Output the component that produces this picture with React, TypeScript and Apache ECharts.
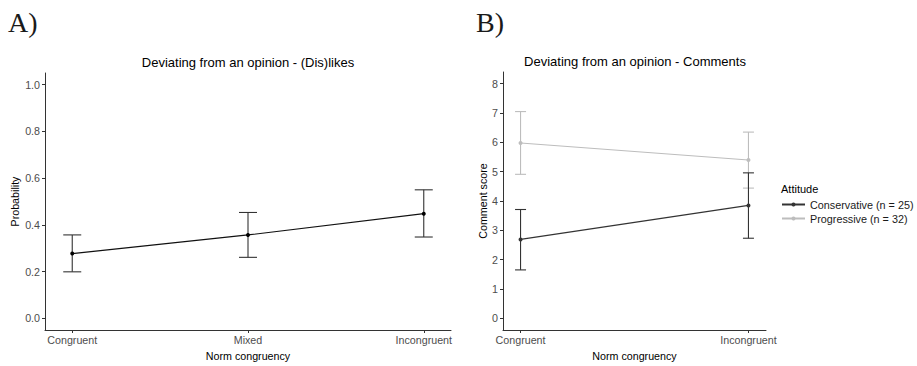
import React, { useEffect, useRef } from "react";
import * as echarts from "echarts";

const catsA = ["Congruent", "Mixed", "Incongruent"];
const meanA = [0.277, 0.357, 0.448];
const lowA = [0.199, 0.261, 0.348];
const highA = [0.357, 0.453, 0.55];
const ticksA = [0, 0.2, 0.4, 0.6, 0.8, 1.0];

const catsB = ["Congruent", "Incongruent"];
const consMean = [2.69, 3.85];
const consLow = [1.65, 2.73];
const consHigh = [3.71, 4.96];
const progMean = [5.98, 5.4];
const progLow = [4.91, 4.44];
const progHigh = [7.05, 6.35];
const ticksB = [0, 1, 2, 3, 4, 5, 6, 7, 8];

const consName = "Conservative (n = 25)";
const progName = "Progressive (n = 32)";

const FONT = "'Liberation Sans', Arial, sans-serif";
const DARK = "#333333";
const LIGHT = "#bdbdbd";
const FS = 10.7;

function errorBar(halfW: number, color: string) {
  return (params: any, api: any) => {
    const x = api.value(0);
    const lo = api.coord([x, api.value(1)]);
    const hi = api.coord([x, api.value(2)]);
    const style = { stroke: color, lineWidth: 1.1 };
    return {
      type: "group",
      children: [
        { type: "line", shape: { x1: lo[0], y1: lo[1], x2: hi[0], y2: hi[1] }, style },
        { type: "line", shape: { x1: hi[0] - halfW, y1: hi[1], x2: hi[0] + halfW, y2: hi[1] }, style },
        { type: "line", shape: { x1: lo[0] - halfW, y1: lo[1], x2: lo[0] + halfW, y2: lo[1] }, style },
      ],
    };
  };
}

function xAxis(gridIndex: number, cats: string[], pad: number) {
  const vals = cats.map((_, i) => i);
  return {
    type: "value",
    gridIndex,
    min: -pad,
    max: cats.length - 1 + pad,
    name: "Norm congruency",
    nameLocation: "middle",
    nameGap: 20,
    nameTextStyle: { fontFamily: FONT, fontSize: FS, color: "#000" },
    axisLine: { show: true, onZero: false, lineStyle: { color: DARK, width: 1 } },
    axisTick: { show: true, length: 3, customValues: vals, lineStyle: { color: DARK } },
    axisLabel: {
      customValues: vals,
      margin: 4,
      fontFamily: FONT,
      fontSize: FS,
      color: "#4d4d4d",
      formatter: (v: number) => cats[Math.round(v)] ?? "",
    },
    splitLine: { show: false },
  };
}

function yAxis(gridIndex: number, name: string, ticks: number[], min: number, max: number, digits: number, gap: number) {
  return {
    type: "value",
    gridIndex,
    min,
    max,
    name,
    nameLocation: "middle",
    nameGap: gap,
    nameTextStyle: { fontFamily: FONT, fontSize: FS, color: "#000" },
    axisLine: { show: true, onZero: false, lineStyle: { color: DARK, width: 1 } },
    axisTick: { show: true, length: 3, customValues: ticks, lineStyle: { color: DARK } },
    axisLabel: {
      customValues: ticks,
      margin: 5,
      fontFamily: FONT,
      fontSize: FS,
      color: "#4d4d4d",
      formatter: (v: number) => v.toFixed(digits),
    },
    splitLine: { show: false },
  };
}

export default function App() {
  const ref = useRef<HTMLDivElement>(null);
  useEffect(() => {
    if (!ref.current) return;
    const chart = echarts.init(ref.current, null, { renderer: "svg" });
    const dataA = catsA.map((_, i) => [i, meanA[i]]);
    const ebA = catsA.map((_, i) => [i, lowA[i], highA[i]]);
    const consLine = catsB.map((_, i) => [i, consMean[i]]);
    const progLine = catsB.map((_, i) => [i, progMean[i]]);
    const consEb = catsB.map((_, i) => [i, consLow[i], consHigh[i]]);
    const progEb = catsB.map((_, i) => [i, progLow[i], progHigh[i]]);

    chart.setOption({
      animation: false,
      backgroundColor: "#fff",
      grid: [
        { left: 45, top: 73, width: 406, height: 265 },
        { left: 503, top: 72, width: 263, height: 265 },
      ],
      xAxis: [xAxis(0, catsA, 0.155), xAxis(1, catsB, 0.077)],
      yAxis: [
        yAxis(0, "Probability", ticksA, -0.05, 1.05, 1, 25),
        yAxis(1, "Comment score", ticksB, -0.4, 8.4, 0, 15),
      ],
      legend: {
        data: [consName, progName],
        orient: "vertical",
        left: 781,
        top: 199,
        padding: 0,
        itemWidth: 23,
        itemHeight: 5,
        itemGap: 3,
        textStyle: { fontFamily: FONT, fontSize: 10.8, color: "#1a1a1a" },
      },
      graphic: [
        { type: "text", x: 8, y: 22, style: { text: "A)", font: "28px 'Liberation Serif', serif", fill: "#1a1a1a", textVerticalAlign: "middle" } },
        { type: "text", x: 476, y: 22, style: { text: "B)", font: "28px 'Liberation Serif', serif", fill: "#1a1a1a", textVerticalAlign: "middle" } },
        { type: "text", x: 248, y: 62, style: { text: "Deviating from an opinion - (Dis)likes", font: `13px ${FONT}`, fill: "#000", textAlign: "center", textVerticalAlign: "middle" } },
        { type: "text", x: 635, y: 61, style: { text: "Deviating from an opinion - Comments", font: `13px ${FONT}`, fill: "#000", textAlign: "center", textVerticalAlign: "middle" } },
        { type: "text", x: 781, y: 189, style: { text: "Attitude", font: `11px ${FONT}`, fill: "#000", textVerticalAlign: "middle" } },
      ],
      series: [
        { type: "custom", name: "ebA", xAxisIndex: 0, yAxisIndex: 0, renderItem: errorBar(9, DARK), encode: { x: 0, y: [1, 2] }, data: ebA, z: 2 },
        { type: "line", name: "meanA", xAxisIndex: 0, yAxisIndex: 0, data: dataA, symbol: "circle", symbolSize: 4, itemStyle: { color: "#000" }, lineStyle: { color: "#111", width: 1.1 }, z: 3 },
        { type: "custom", name: "ebProg", xAxisIndex: 1, yAxisIndex: 1, renderItem: errorBar(5.5, LIGHT), encode: { x: 0, y: [1, 2] }, data: progEb, z: 2 },
        { type: "line", name: progName, xAxisIndex: 1, yAxisIndex: 1, data: progLine, symbol: "circle", symbolSize: 4, itemStyle: { color: LIGHT }, lineStyle: { color: LIGHT, width: 1.1 }, z: 3 },
        { type: "custom", name: "ebCons", xAxisIndex: 1, yAxisIndex: 1, renderItem: errorBar(5.5, DARK), encode: { x: 0, y: [1, 2] }, data: consEb, z: 4 },
        { type: "line", name: consName, xAxisIndex: 1, yAxisIndex: 1, data: consLine, symbol: "circle", symbolSize: 4, itemStyle: { color: DARK }, lineStyle: { color: DARK, width: 1.1 }, z: 5 },
      ],
    });
    return () => chart.dispose();
  }, []);
  return <div ref={ref} style={{ position: "fixed", left: 0, top: 0, width: 917, height: 366 }} />;
}
